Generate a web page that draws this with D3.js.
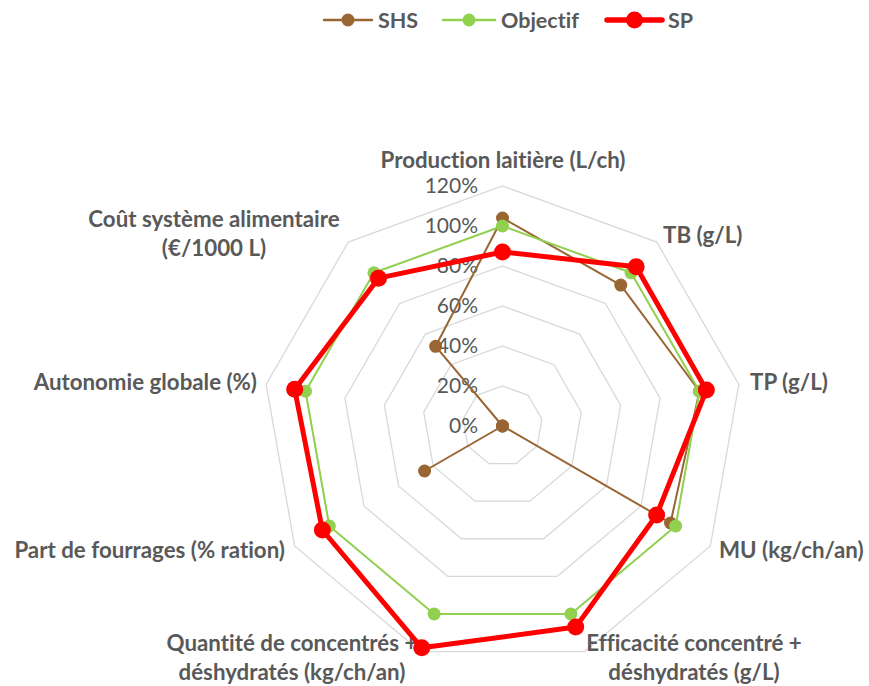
<!DOCTYPE html>
<html><head><meta charset="utf-8">
<script src="https://cdn.jsdelivr.net/npm/d3@7"></script>
<style>
body{margin:0;background:#fff;}
text{font-family:Lato,"Open Sans",sans-serif;font-variant-ligatures:none;font-feature-settings:"liga" 0,"clig" 0;}
</style></head>
<body><svg id="c" width="869" height="686"></svg>
<script>
const categories = [
  ["Production laitière (L/ch)"],
  ["TB (g/L)"],
  ["TP (g/L)"],
  ["MU (kg/ch/an)"],
  ["Efficacité concentré +","déshydratés (g/L)"],
  ["Quantité de concentrés +","déshydratés (kg/ch/an)"],
  ["Part de fourrages (% ration)"],
  ["Autonomie globale (%)"],
  ["Coût système alimentaire","(€/1000 L)"]
];
const seriesNames = ["SHS","Objectif","SP"];
const shs      = [1.04, 0.92, 1.00, 0.97, 0, 0, 0.45, 0, 0.52];
const objectif = [1.00, 1.00, 1.00, 1.00, 1.00, 1.00, 1.00, 1.00, 1.00];
const sp       = [0.87, 1.04, 1.035, 0.89, 1.07, 1.18, 1.04, 1.055, 0.965];
const ticks = [0, 0.2, 0.4, 0.6, 0.8, 1.0, 1.2];

const svg = d3.select("#c");
const cx = 502.5, cy = 426;
const r = d3.scaleLinear().domain([0, 1.2]).range([0, 240]);
const ang = d3.scaleLinear().domain([0, categories.length]).range([0, 2*Math.PI]);
const pt = (i, v) => [cx + r(v)*Math.sin(ang(i)), cy - r(v)*Math.cos(ang(i))];
const grey = "#595959";

// grid
const g = svg.append("g");
ticks.filter(t => t > 0).forEach(t => {
  g.append("polygon")
    .attr("points", categories.map((c,i) => pt(i,t).join(",")).join(" "))
    .attr("fill","none").attr("stroke","#D9D9D9").attr("stroke-width",1.3);
});
// tick labels
g.selectAll("text.tick").data(ticks).join("text")
  .attr("x", 478).attr("y", d => cy - r(d)).attr("dy","0.35em")
  .attr("text-anchor","end").attr("font-size",21).attr("fill",grey)
  .text(d3.format(".0%"));

// category labels
const labelPos = [
  {x:503, y:160, a:"middle"},
  {x:663, y:235, a:"start"},
  {x:750, y:382, a:"start"},
  {x:719, y:550, a:"start"},
  {x:694, y:643, a:"middle"},
  {x:292, y:643, a:"middle"},
  {x:285, y:550, a:"end"},
  {x:257, y:382, a:"end"},
  {x:214, y:219, a:"middle"}
];
categories.forEach((lines, i) => {
  const p = labelPos[i];
  const t = svg.append("text").attr("text-anchor", p.a)
    .attr("font-size",22.3).attr("font-weight","bold").attr("fill",grey);
  lines.forEach((l, k) => {
    t.append("tspan").attr("x", p.x).attr("y", p.y + k*29).attr("dy","0.35em").text(l);
  });
});

// series
const styles = [
  {data: shs, color:"#996633", w:2, mr:6.5},
  {data: objectif, color:"#92D050", w:2, mr:6.5},
  {data: sp, color:"#FF0000", w:5, mr:8.5}
];
const line = d3.line().curve(d3.curveLinearClosed);
styles.forEach(s => {
  const pts = s.data.map((v,i) => pt(i,v));
  svg.append("path").attr("d", line(pts)).attr("fill","none")
    .attr("stroke", s.color).attr("stroke-width", s.w).attr("stroke-linejoin","round");
  svg.append("g").selectAll("circle").data(pts).join("circle")
    .attr("cx", d => d[0]).attr("cy", d => d[1]).attr("r", s.mr).attr("fill", s.color);
});

// legend
const legX = [324, 443, 607];
const legW = [48, 52, 55];
seriesNames.forEach((n, i) => {
  const s = styles[i];
  const y = 20;
  svg.append("line").attr("x1", legX[i]).attr("x2", legX[i]+legW[i]).attr("y1", y).attr("y2", y)
    .attr("stroke", s.color).attr("stroke-width", s.w+0.5).attr("stroke-linecap","round");
  svg.append("circle").attr("cx", legX[i]+legW[i]/2).attr("cy", y).attr("r", s.mr).attr("fill", s.color);
  svg.append("text").attr("x", legX[i]+legW[i]+6).attr("y", y).attr("dy","0.35em")
    .attr("font-size",21.5).attr("font-weight","bold").attr("fill",grey).text(n);
});
</script></body></html>
